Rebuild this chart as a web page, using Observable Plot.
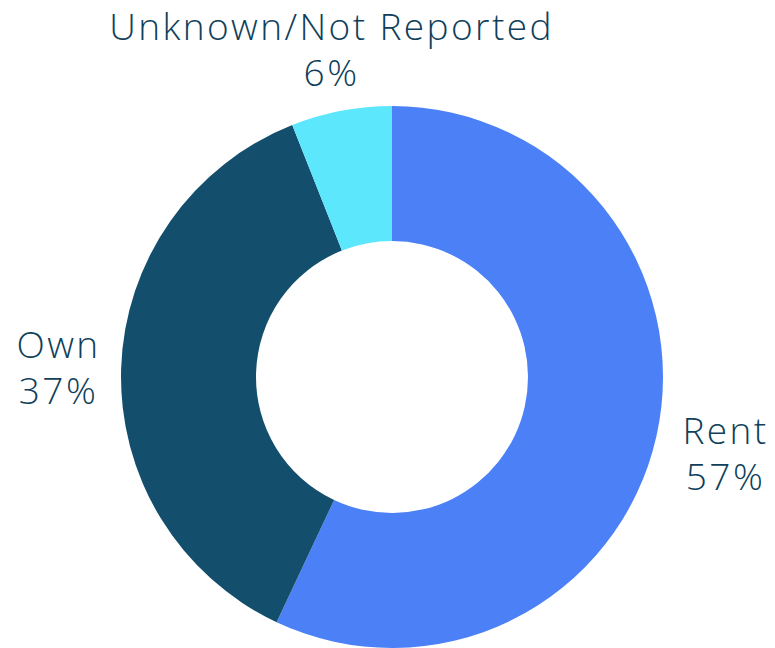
<!DOCTYPE html>
<html><head><meta charset="utf-8">
<script src="https://cdn.jsdelivr.net/npm/d3@7"></script>
<script src="https://cdn.jsdelivr.net/npm/@observablehq/plot@0.6"></script>
<style>body{margin:0;background:#fff;overflow:hidden}</style>
</head><body><div id="chart"></div>
<script>
const categories = ["Rent", "Own", "Unknown/Not Reported"];
const values = [57, 37, 6];
const colors = ["#4b80f6", "#134f6d", "#5de7fd"];

// layout (pixels)
const W = 775, H = 648, cx = 392, cy = 377, outerR = 271, innerR = 136;
const namePos = [[725 - cx, 432 - cy], [58 - cx, 346 - cy], [331 - cx, 28 - cy]];
const lineGap = 46;

const data = categories.map((c, i) => ({
  category: c, value: values[i], pct: `${values[i]}%`,
  lx: namePos[i][0], ly: namePos[i][1], py: namePos[i][1] + lineGap
}));
const arcs = d3.pie().sort(null).value(d => d.value)(data);

const donut = (index, scales) => {
  const g = d3.create("svg:g");
  const arc = d3.arc().innerRadius(innerR).outerRadius(outerR);
  const color = scales.color ? scales.color : (c => colors[categories.indexOf(c)]);
  g.attr("transform", `translate(${scales.x(0)},${scales.y(0)})`)
    .selectAll("path").data(arcs).join("path")
    .attr("d", arc)
    .attr("fill", d => color(d.data.category));
  return g.node();
};

const textStyle = {fontSize: 37, fontWeight: 300, fill: "#0f3f5a", textAnchor: "middle"};

const chart = Plot.plot({
  width: W, height: H,
  margin: 0,
  x: {domain: [-cx, W - cx], range: [0, W], axis: null},
  y: {domain: [-cy, H - cy], range: [0, H], axis: null},
  color: {domain: categories, range: colors},
  style: {fontFamily: "'Open Sans', sans-serif", background: "#fff", letterSpacing: "2.4px"},
  marks: [
    donut,
    Plot.text(data, {x: "lx", y: "ly", text: "category", ...textStyle}),
    Plot.text(data, {x: "lx", y: "py", text: "pct", ...textStyle})
  ]
});
document.getElementById("chart").append(chart);
</script>
</body></html>
